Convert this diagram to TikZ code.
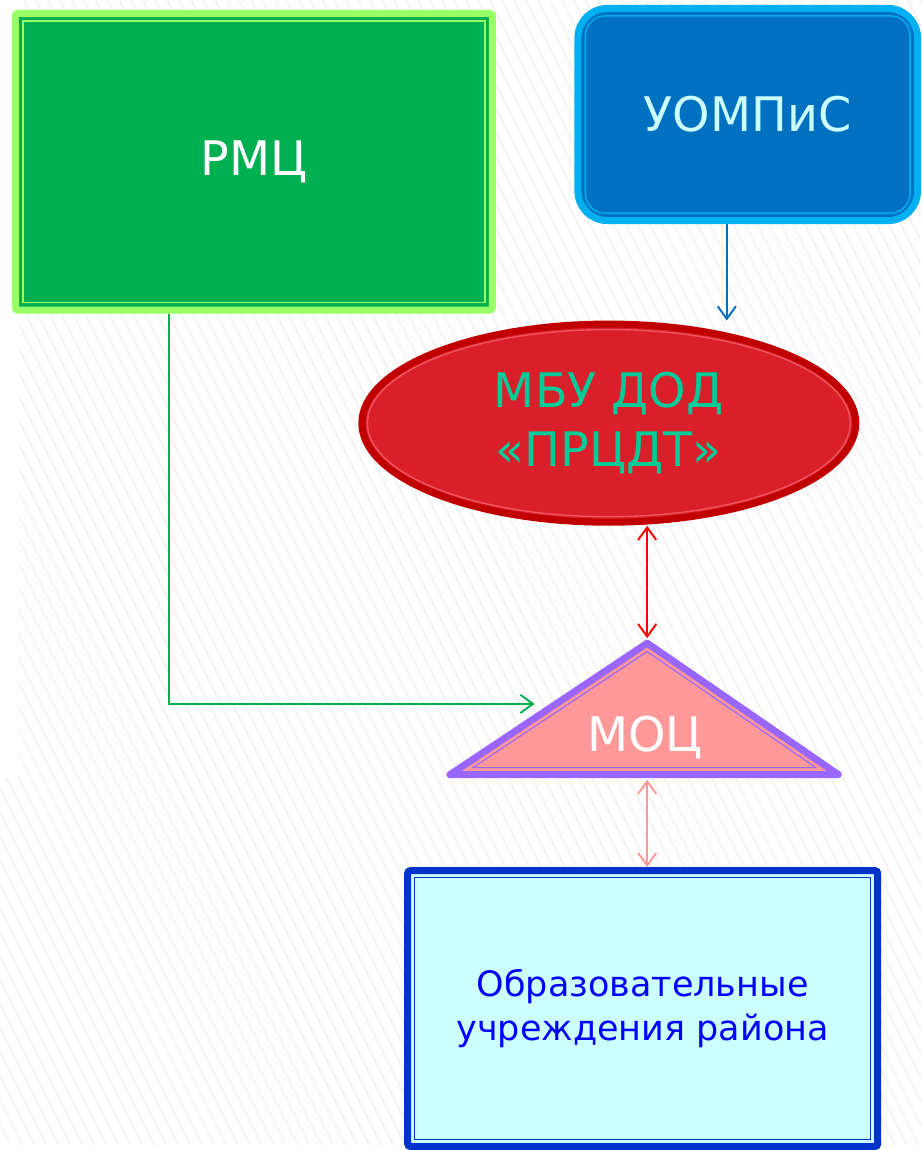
\documentclass[tikz,border=0pt]{standalone}
\usepackage{fontspec}
\setmainfont{DejaVu Sans}
\usetikzlibrary{shapes.geometric,arrows.meta}

\definecolor{rmcgreen}{HTML}{00B050}
\definecolor{rmcedge}{HTML}{99FF66}
\definecolor{uompblue}{HTML}{0070C0}
\definecolor{uompedge}{HTML}{00B0F0}
\definecolor{uomptext}{HTML}{CCFFFF}
\definecolor{mbured}{HTML}{D9202A}
\definecolor{mbuedge}{HTML}{C00000}
\definecolor{mbuinner}{HTML}{EE5560}
\definecolor{mbutext}{HTML}{00CC99}
\definecolor{mocfill}{HTML}{FF9999}
\definecolor{mocedge}{HTML}{9966FF}
\definecolor{oufill}{HTML}{CCFFFF}
\definecolor{ouedge}{HTML}{0033CC}
\definecolor{outext}{HTML}{0000FF}

\begin{document}
\begin{tikzpicture}[x=0.025cm, y=-0.025cm,
        >={Straight Barb[length=9pt,width=13pt]},
        bigtext/.style={font=\fontsize{34}{42}\selectfont},
        rmcbox/.style={draw=rmcedge, fill=rmcgreen, line width=5pt, rounded corners=2pt,
            minimum width=11.975cm, minimum height=7.45cm, text=white, bigtext},
        uompbox/.style={draw=uompedge, fill=uompblue, line width=5pt, rounded corners=21pt,
            minimum width=8.525cm, minimum height=5.325cm, text=uomptext, bigtext},
        mbuoval/.style={ellipse, draw=mbuedge, fill=mbured, line width=5pt, inner sep=0pt,
            minimum width=12.4cm, minimum height=4.975cm, text=mbutext, align=center, bigtext},
        oubox/.style={draw=ouedge, fill=oufill, line width=5pt, rounded corners=2pt,
            minimum width=11.8cm, minimum height=6.925cm, text=outext, align=center,
            font=\fontsize{25}{32}\selectfont},
        inline/.style={line width=1pt},
        hatch/.style={gray!11, line width=1.1pt},
        conn/.style={line width=1.4pt}]

    % background
    \fill[white] (0,0) rectangle (925,1150);
    \begin{scope}
        \clip (0,0) rectangle (925,1150);
        \foreach \i in {-600,-588,...,925}
            \draw[hatch] (\i,0) -- ++(575,1150);
    \end{scope}
    \fill[white] (0,0) rectangle (19,780);

    % boxes
    \node[rmcbox] (rmc) at (255,162.5) {РМЦ};
    \draw[inline, rmcedge] ([shift={(11,11)}]rmc.north west) rectangle ([shift={(-11,-11)}]rmc.south east);

    \node[uompbox] (uomp) at (751,115) {УОМПиС};
    \draw[inline, uompedge, rounded corners=14pt] ([shift={(11,11)}]uomp.north west) rectangle ([shift={(-11,-11)}]uomp.south east);

    \node[mbuoval] (mbu) at (611.5,425) {МБУ ДОД\\«ПРЦДТ»};
    \draw[inline, mbuinner] (mbu.center) ellipse (242.5 and 94);

    % triangle
    \filldraw[fill=mocfill, draw=mocedge, line width=5pt, line join=round] (650,646) -- (452,778) -- (842,778) -- cycle;
    \draw[inline, mocedge, line width=0.8pt] (650,654.5) -- (475,771) -- (819.5,771) -- cycle;
    \node[text=white, bigtext] (moc) at (648,741) {МОЦ};
    \coordinate (moc apex) at (650,641);
    \coordinate (moc base) at (650,783);
    \coordinate (moc side) at (537,707);

    \node[oubox] (ou) at (645.5,1013) {Образовательные\\учреждения района};
    \draw[inline, ouedge] ([shift={(10.5,10.5)}]ou.north west) rectangle ([shift={(-10.5,-10.5)}]ou.south east);

    % connectors
    \draw[conn, ->, uompblue] ([xshift=-0.525cm]uomp.south) -- ([xshift=-0.525cm]uomp.south |- mbu.north);
    \draw[conn, <->, red] (moc apex |- mbu.south) -- (moc apex);
    \draw[conn, <->, mocfill] (moc base) -- (moc base |- ou.north);
    \draw[conn, ->, rmcgreen] ([xshift=-2.125cm]rmc.south) |- (moc side);

    \useasboundingbox (0,0) rectangle (925,1150);
\end{tikzpicture}
\end{document}
